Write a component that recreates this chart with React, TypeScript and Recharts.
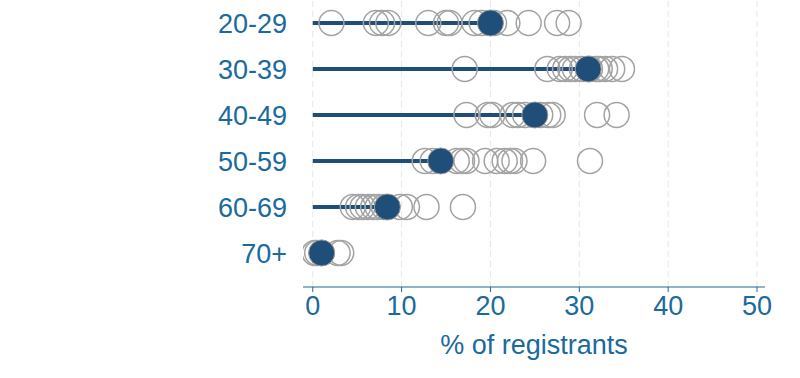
import {
  ScatterChart,
  Scatter,
  XAxis,
  YAxis,
  ReferenceLine,
} from "recharts";

const ageGroups = ["20-29", "30-39", "40-49", "50-59", "60-69", "70+"];

// individual shares (% of registrants) per age group
const age20 = [2.1, 7.1, 7.8, 8.5, 13.0, 15.0, 15.4, 18.2, 19.0, 20.4, 21.9, 24.3, 27.5, 28.8];
const age30 = [17.1, 26.4, 27.8, 28.4, 29.0, 29.5, 30.3, 31.2, 31.9, 32.3, 32.9, 33.7, 34.8];
const age40 = [17.3, 19.7, 20.2, 22.5, 23.1, 23.9, 25.6, 26.5, 27.0, 32.0, 34.2];
const age50 = [12.6, 13.5, 16.2, 16.8, 17.3, 19.4, 20.7, 21.6, 22.2, 22.7, 24.8, 31.2];
const age60 = [4.5, 5.1, 5.6, 6.2, 6.8, 7.3, 8.0, 9.8, 10.6, 12.8, 16.9];
const age70 = [0.2, 0.5, 1.0, 2.8, 3.2];

const means = [20.0, 31.0, 25.0, 14.4, 8.4, 1.0];

const xTicks = [0, 10, 20, 30, 40, 50];

const allRows = [age20, age30, age40, age50, age60, age70];
const points = allRows.flatMap((row, i) => row.map((v) => ({ x: v, y: i })));
const meanPoints = means.map((m, i) => ({ x: m, y: i }));

const BLUE = "#1b6a9c";
const NAVY = "#1f4e79";
const FONT = "'Liberation Sans', Arial, sans-serif";

const HollowDot = (props: any) => (
  <circle cx={props.cx} cy={props.cy} r={12.5} fill="none" stroke="#a3a3a3" strokeWidth={1.5} />
);

const MeanDot = (props: any) => (
  <circle cx={props.cx} cy={props.cy} r={13} fill={NAVY} stroke="#9a9a9a" strokeWidth={1} />
);

export default function App() {
  return (
    <div style={{ position: "absolute", left: 0, top: 0, background: "#fff" }}>
      <ScatterChart
        width={800}
        height={378}
        margin={{ top: 0, right: 35, bottom: 11, left: 0 }}
        style={{ fontFamily: FONT }}
      >
        {/* dashed vertical grid at each x tick */}
        {xTicks.map((t) => (
          <ReferenceLine
            key={`grid-${t}`}
            x={t}
            stroke="#e6e6e6"
            strokeDasharray="6 4"
            strokeWidth={1}
          />
        ))}
        <XAxis
          type="number"
          dataKey="x"
          domain={[-1.1, 50.9]}
          ticks={xTicks}
          allowDataOverflow
          height={80}
          stroke={BLUE}
          tickSize={5}
          tickMargin={4}
          tick={{ fill: BLUE, fontSize: 27, fontFamily: FONT }}
          label={{
            value: "% of registrants",
            position: "insideBottom",
            offset: 13,
            fill: BLUE,
            fontSize: 27,
            fontFamily: FONT,
          }}
        />
        <YAxis
          type="number"
          dataKey="y"
          domain={[-0.5, 5.74]}
          ticks={[0, 1, 2, 3, 4, 5]}
          reversed
          allowDataOverflow
          width={303}
          axisLine={false}
          tickLine={false}
          tickSize={6}
          tickMargin={10}
          tickFormatter={(v: number) => ageGroups[v] ?? ""}
          tick={{ fill: BLUE, fontSize: 27, fontFamily: FONT }}
        />
        {means.map((m, i) => (
          <ReferenceLine
            key={ageGroups[i]}
            segment={[
              { x: 0, y: i },
              { x: m, y: i },
            ]}
            stroke={NAVY}
            strokeWidth={4}
            ifOverflow="visible"
          />
        ))}
        <Scatter
          data={points}
          shape={HollowDot}
          isAnimationActive={false}
        />
        <Scatter
          data={meanPoints}
          shape={MeanDot}
          isAnimationActive={false}
        />
      </ScatterChart>
    </div>
  );
}
